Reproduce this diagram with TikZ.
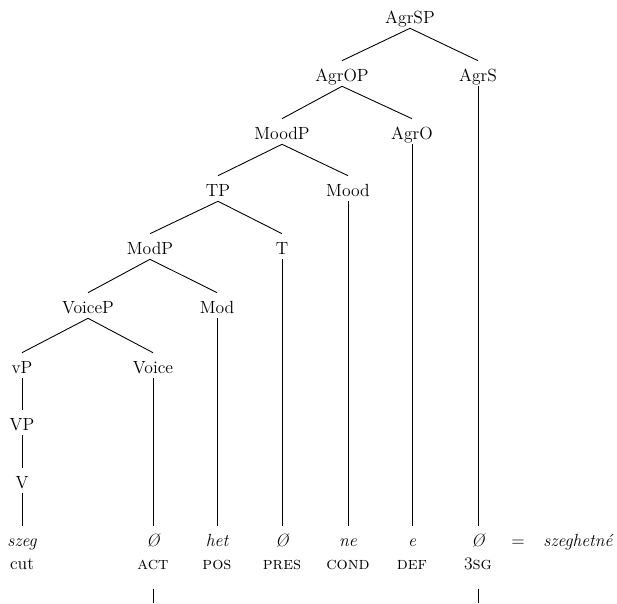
\documentclass[tikz,border=0pt]{standalone}
\usepackage{fontspec}
\usepackage{tikz}

\begin{document}
\begin{tikzpicture}[
    x=0.625pt, y=-0.625pt,
    cat/.style={
        anchor=base,
        font=\fontsize{11}{13}\selectfont,
        text height=11pt,
        text depth=1.6pt,
        inner xsep=2pt,
        inner ysep=1.5pt
    },
    morph/.style={cat, font=\fontsize{11}{13}\selectfont\itshape},
    branch/.style={-, line width=0.55pt}
]
\useasboundingbox (0,0) rectangle (617,603);
\coordinate (floor) at (0,603);

% functional projections
\node[cat] (agrsp) at (410,23) {AgrSP};
\node[cat] (agrop) at (342,81) {AgrOP};
\node[cat] (agrs) at (478,81) {AgrS};
\node[cat] (moodp) at (282,139) {MoodP};
\node[cat] (agro) at (412,139) {AgrO};
\node[cat] (tp) at (218,196) {TP};
\node[cat] (mood) at (348,196) {Mood};
\node[cat] (modp) at (150,254) {ModP};
\node[cat] (t) at (282,254) {T};
\node[cat] (voicep) at (88,313) {VoiceP};
\node[cat] (mod) at (217,313) {Mod};
\node[cat] (littlevp) at (22,373) {vP};
\node[cat] (voice) at (153,373) {Voice};
\node[cat] (bigvp) at (22,430) {VP};
\node[cat] (v) at (22,488) {V};

% morphemes
\node[morph] (szeg) at (22,546) {szeg};
\node[morph] (nullvoice) at (153,546) {Ø};
\node[morph] (het) at (217,546) {het};
\node[morph] (nullt) at (282,546) {Ø};
\node[morph] (ne) at (348,546) {ne};
\node[morph] (e) at (412,546) {e};
\node[morph] (nullagrs) at (478,546) {Ø};
\node[cat] (eq) at (518,546) {=};
\node[morph] (word) at (578,546) {szeghetné};

% glosses
\node[cat] (cut) at (22,569) {cut};
\node[cat] (act) at (153,569) {\textsc{act}};
\node[cat] (pos) at (217,569) {\textsc{pos}};
\node[cat] (pres) at (282,569) {\textsc{pres}};
\node[cat] (cond) at (348,569) {\textsc{cond}};
\node[cat] (def) at (412,569) {\textsc{def}};
\node[cat] (sg) at (478,569) {3\textsc{sg}};

\draw[branch] (agrsp.south) -- (agrop.north);
\draw[branch] (agrsp.south) -- (agrs.north);
\draw[branch] (agrop.south) -- (moodp.north);
\draw[branch] (agrop.south) -- (agro.north);
\draw[branch] (moodp.south) -- (tp.north);
\draw[branch] (moodp.south) -- (mood.north);
\draw[branch] (tp.south) -- (modp.north);
\draw[branch] (tp.south) -- (t.north);
\draw[branch] (modp.south) -- (voicep.north);
\draw[branch] (modp.south) -- (mod.north);
\draw[branch] (voicep.south) -- (littlevp.north);
\draw[branch] (voicep.south) -- (voice.north);
\draw[branch] (littlevp.south) -- (bigvp.north);
\draw[branch] (bigvp.south) -- (v.north);

\draw[branch] (v.south) -- (szeg.north);
\draw[branch] (voice.south) -- (nullvoice.north);
\draw[branch] (mod.south) -- (het.north);
\draw[branch] (t.south) -- (nullt.north);
\draw[branch] (mood.south) -- (ne.north);
\draw[branch] (agro.south) -- (e.north);
\draw[branch] (agrs.south) -- (nullagrs.north);

\draw[branch] ([yshift=-9pt]act.south) -- (act.south |- floor);
\draw[branch] ([yshift=-9pt]sg.south) -- (sg.south |- floor);
\end{tikzpicture}
\end{document}
